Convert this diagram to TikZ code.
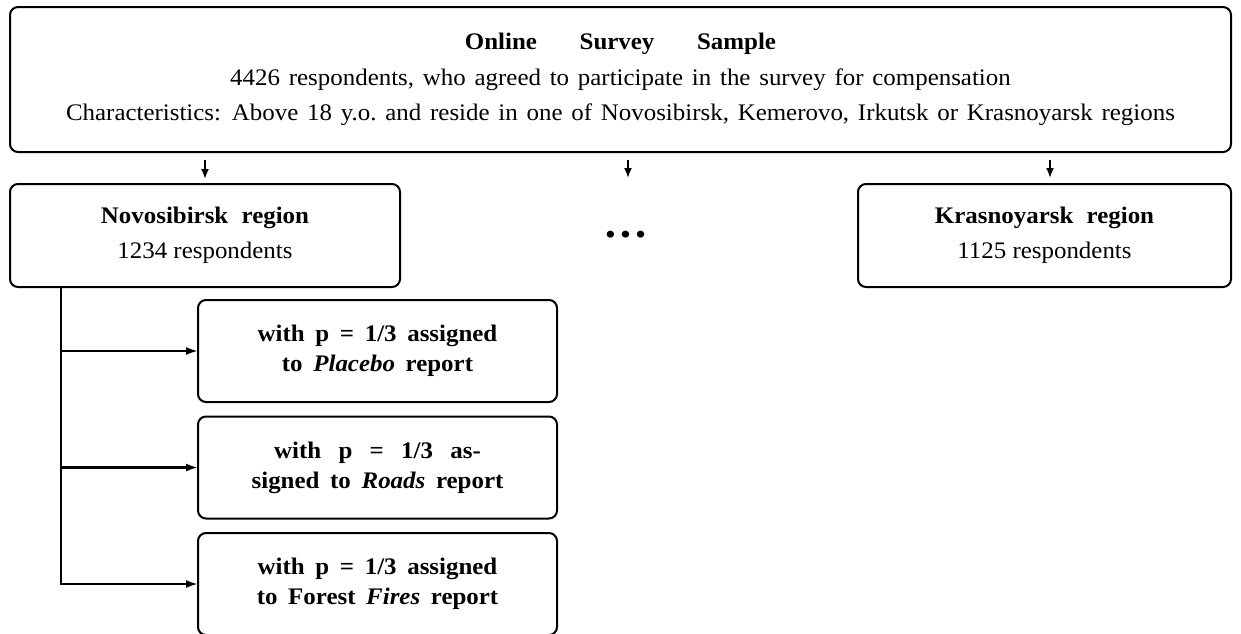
\documentclass[tikz,border=0pt]{standalone}
\usepackage{fontspec}
\setmainfont[FakeStretch=1.05]{Liberation Serif}
\usetikzlibrary{arrows.meta}
\newcommand\myBigFont{\fontsize{17.8}{26.6}\selectfont\spaceskip 0.37em plus 0.1em\relax}
\newcommand\myRegFont{\fontsize{17.8}{26.6}\selectfont}
\newcommand\mySmFont{\fontsize{17.8}{22.5}\selectfont\bfseries\spaceskip 0.45em plus 0.1em\relax}
\begin{document}
\begin{tikzpicture}[x=0.75pt,y=-0.75pt,
  box/.style={draw,line width=1.5pt,rounded corners=6pt,inner sep=0pt,outer sep=0pt,align=center},
  bigtxt/.style={font=\myBigFont},
  regtxt/.style={font=\myRegFont},
  smtxt/.style={font=\mySmFont},
  arr/.style={line width=1.4pt,-{Latex[length=7.5pt,width=6pt]}},
  arrh/.style={line width=1.6pt,-{Latex[length=9pt,width=6pt]}}]
\useasboundingbox (0,0) rectangle (1241,633);
\node[box,bigtxt,minimum width=915.75pt,minimum height=108.75pt] (top) at (620.5,79.5)
  {\textbf{Online\hspace{32pt}Survey\hspace{32pt}Sample}\\
   4426 respondents, who agreed to participate in the survey for compensation\\
   Characteristics: Above 18 y.o.\ and reside in one of Novosibirsk, Kemerovo, Irkutsk or Krasnoyarsk regions};
\node[box,regtxt,minimum width=292.5pt,minimum height=77.25pt] (nov) at (205,235.5)
  {\textbf{Novosibirsk\hspace{10pt}region}\\1234 respondents};
\node[box,regtxt,minimum width=279.75pt,minimum height=77.25pt] (kras) at (1044.5,235.5)
  {\textbf{Krasnoyarsk\hspace{10pt}region}\\1125 respondents};
\node[font=\fontsize{32}{32}\selectfont\bfseries,inner sep=0pt] (dots) at (626,235) {\dots};
\coordinate (mid) at (628,178);
\coordinate (kin) at (1050,183);
\node[box,smtxt,minimum width=269.25pt,minimum height=76.5pt] (c1) at (377.5,351)
  {with p = 1/3 assigned\\to \textit{Placebo} report};
\node[box,smtxt,minimum width=269.25pt,minimum height=76.5pt] (c2) at (377.5,467.5)
  {with\hspace{13pt}p\hspace{13pt}=\hspace{13pt}1/3\hspace{13pt}as-\\signed to \textit{Roads} report};
\node[box,smtxt,minimum width=269.25pt,minimum height=76.5pt] (c3) at (377.5,584)
  {with p = 1/3 assigned\\to Forest \textit{Fires} report};
\draw[arr,shorten <=6pt,shorten >=3.75pt] (top.south -| nov.north) -- (nov.north);
\draw[arr,shorten <=6pt] (top.south -| mid) -- (mid);
\draw[arr,shorten <=6pt,shorten >=3.75pt] (top.south -| kin) -- (kin);
\coordinate (trunk) at (61,0);
\draw[arrh] (nov.south -| trunk) |- (c3.west);
\draw[arrh] (c1.west -| trunk) -- (c1.west);
\draw[arrh] (c2.west -| trunk) -- (c2.west);
\end{tikzpicture}
\end{document}
